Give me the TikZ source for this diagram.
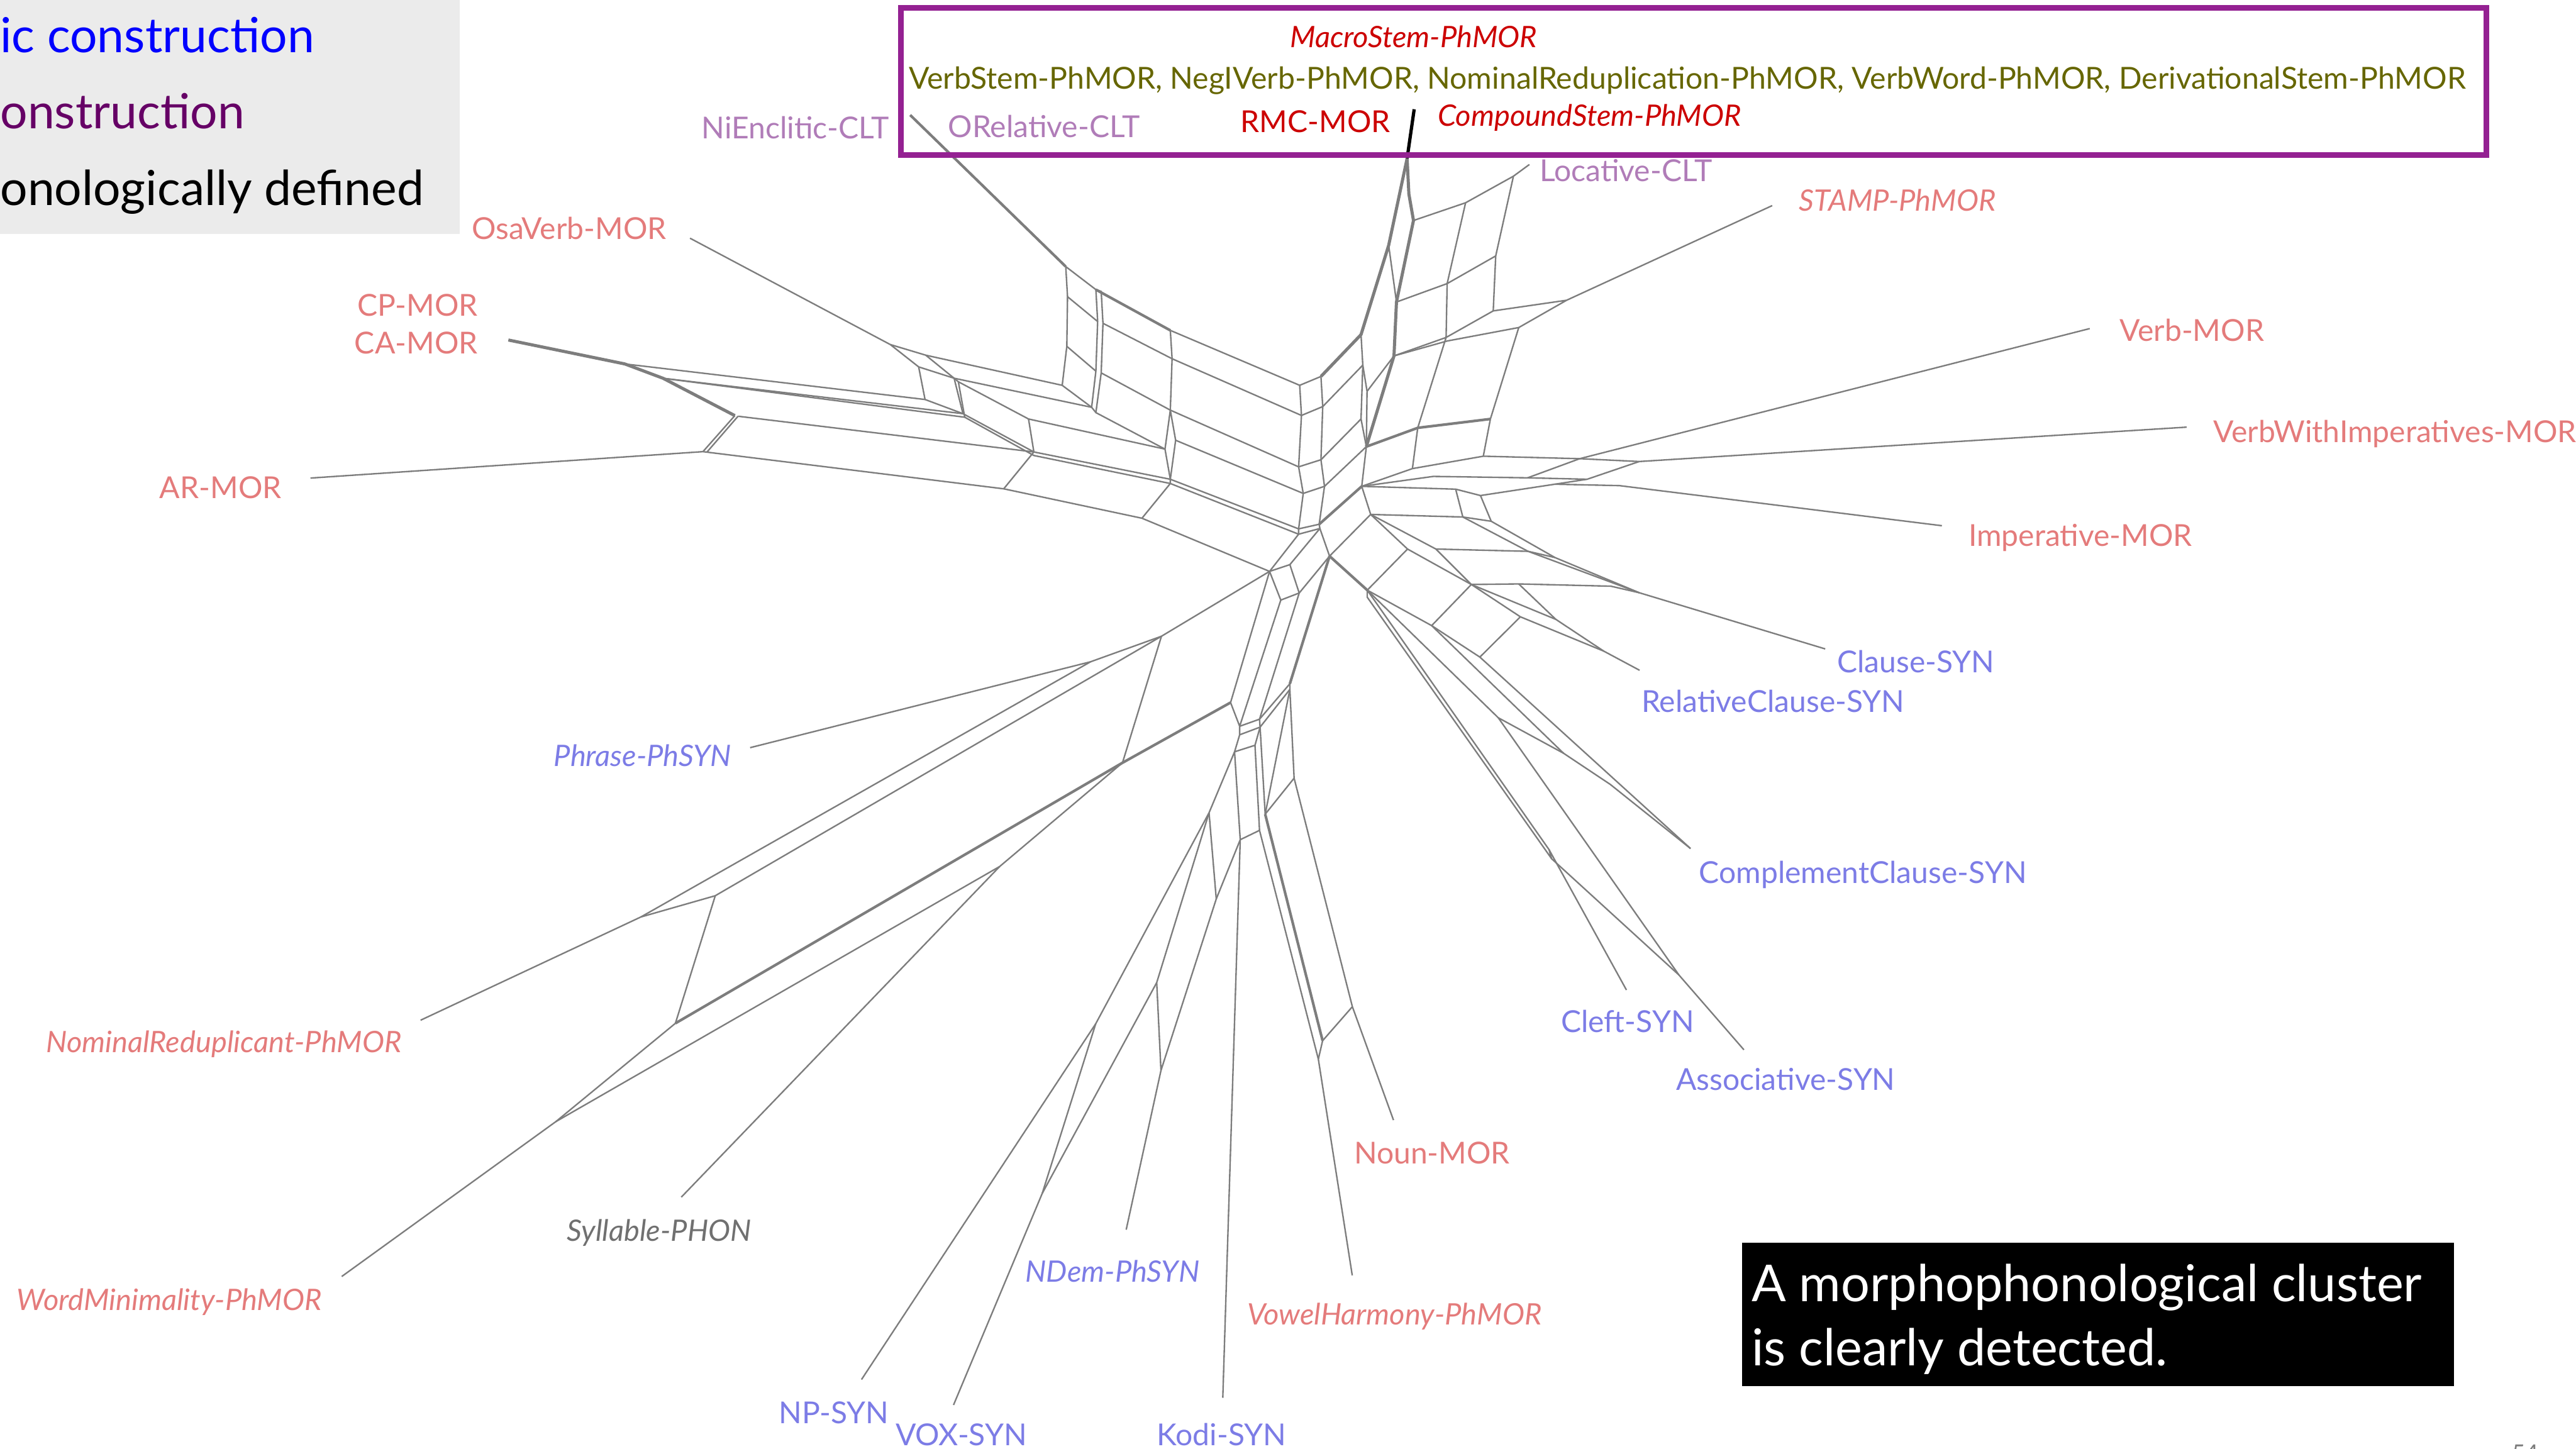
\documentclass[tikz,border=0pt]{standalone}
\usepackage{fontspec}
\setmainfont{Lato}
\begin{document}
\begin{tikzpicture}[x=1pt, y=-1pt,
  net/.style={draw=greyNET, line width=0.9pt, line join=round},
  thicknet/.style={net, line width=1.6pt},
  trunk/.style={net, line width=1.9pt},
  taxon/.style={inner sep=0pt, font=\fontsize{18.4}{20}\selectfont},
  taxonit/.style={inner sep=0pt, font=\fontsize{18}{20}\selectfont\itshape},
  key/.style={inner sep=0pt, font=\fontsize{29.4}{36}\selectfont},
  remark/.style={inner sep=0pt, text=white, font=\fontsize{31}{36}\selectfont}]

\definecolor{greyNET}{HTML}{7D7D7D}
\definecolor{salmonMOR}{HTML}{E47B7B}
\definecolor{blueSYN}{HTML}{7C7CE6}
\definecolor{lilacCLT}{HTML}{B07CB8}
\definecolor{greyPHON}{HTML}{707070}
\definecolor{redBOX}{HTML}{CC0000}
\definecolor{oliveBOX}{HTML}{666600}
\definecolor{purpleBOX}{HTML}{942192}
\definecolor{greyKEY}{HTML}{EBEBEB}
\definecolor{blueKEY}{HTML}{0000FF}
\definecolor{purpleKEY}{HTML}{660066}

\useasboundingbox (0,0) rectangle (1568,882);
\clip (0,0) rectangle (1568,882);

% key
\fill[greyKEY] (0,0) rectangle (280,142.6);
\node[key, text=blueKEY, anchor=base west] (keysyn) at (0,32) {ic construction};
\node[key, text=purpleKEY, anchor=base west] (keymor) at (0,78.4) {onstruction};
\node[key, anchor=base west] (keyphon) at (0,124.9) {onologically defined};

% leaves of the network
\coordinate (niE) at (554,70);
\coordinate (osaE) at (420,145);
\coordinate (arE) at (189,291);
\coordinate (verbE) at (1272,200);
\coordinate (vwiE) at (1331,260);
\coordinate (impE) at (1182,320);
\coordinate (clauseE) at (1111,395);
\coordinate (relE) at (998,408);
\coordinate (compE) at (1029,516.5);
\coordinate (cleftE) at (990,602.6);
\coordinate (assocE) at (1061.5,639);
\coordinate (nounE) at (848.2,681.8);
\coordinate (vowelE) at (823.1,776.3);
\coordinate (kodiE) at (744.3,850.8);
\coordinate (ndemE) at (685.5,748.5);
\coordinate (voxE) at (580.4,855.2);
\coordinate (npE) at (524.4,839.7);
\coordinate (sylE) at (414.7,728.7);
\coordinate (wordE) at (208,777);
\coordinate (nomE) at (256,621);
\coordinate (phraseE) at (456.6,455.1);

% upper right part
\begin{scope}[shift={(795,84.6)}, scale=0.21575]
  \coordinate (t0) at (285,55);
  \coordinate (t1) at (233,300);
  \coordinate (t2) at (290,155);
  \coordinate (t3) at (303,230);
  \coordinate (t4) at (255,460);
  \coordinate (t5) at (248,612);
  \coordinate (cf0) at (155,552);
  \coordinate (cf1) at (160,638);
  \coordinate (cf1b) at (172,712);
  \coordinate (cf2) at (155,790);
  \coordinate (cf3) at (170,868);
  \coordinate (hubR) at (157,980);
  \coordinate (l1) at (450,180);
  \coordinate (l2) at (585,105);
  \coordinate (locE) at (630,72);
  \coordinate (l3) at (398,408);
  \coordinate (l4) at (535,330);
  \coordinate (l5) at (395,560);
  \coordinate (l5b) at (398,570);
  \coordinate (l6) at (528,485);
  \coordinate (l7) at (600,532);
  \coordinate (s1) at (735,455);
  \coordinate (stampE) at (1315,188);
  \coordinate (l8) at (315,815);
  \coordinate (l9) at (520,790);
  \coordinate (r1) at (300,930);
  \coordinate (r2) at (500,895);
  \coordinate (r3) at (359,952);
  \coordinate (r4) at (625,956);
  \coordinate (r5) at (793,960);
  \coordinate (v1) at (772,902);
  \coordinate (v2) at (940,910);
  \coordinate (r6) at (422,988);
  \coordinate (r7) at (492,1006);
  \coordinate (r8) at (702,974);
  \coordinate (r9) at (884,978);
\end{scope}

% upper left part
\begin{scope}[shift={(507.4,135.3)}, scale=0.21575]
  \coordinate (un) at (655,125);
  \coordinate (ca1) at (660,210);
  \coordinate (ca2) at (658,350);
  \coordinate (cb0) at (740,190);
  \coordinate (cb1) at (745,280);
  \coordinate (cb2) at (740,420);
  \coordinate (cbb0) at (755,195);
  \coordinate (cbb1) at (760,285);
  \coordinate (cbb2) at (755,425);
  \coordinate (cc0) at (950,305);
  \coordinate (cc1) at (955,385);
  \coordinate (cc2) at (950,530);
  \coordinate (cc3) at (965,615);
  \coordinate (cd0) at (1315,460);
  \coordinate (cd1) at (1320,545);
  \coordinate (cd2) at (1312,690);
  \coordinate (cd3) at (1325,765);
  \coordinate (cd4) at (1312,865);
  \coordinate (cd5) at (1312,880);
  \coordinate (ce0) at (1375,435);
  \coordinate (ce1) at (1380,520);
  \coordinate (ce2) at (1375,670);
  \coordinate (ce3) at (1385,745);
  \coordinate (ce4) at (1370,852);
  \coordinate (ce5) at (1372,864);
  \coordinate (uo) at (160,345);
  \coordinate (ub1) at (260,375);
  \coordinate (ub2) at (645,460);
  \coordinate (ub3) at (240,408);
  \coordinate (ub4) at (340,440);
  \coordinate (ub4b) at (352,450);
  \coordinate (ub5) at (728,522);
  \coordinate (ub5b) at (740,537);
  \coordinate (ub6) at (550,555);
  \coordinate (ub7) at (935,640);
  \coordinate (ua1) at (258,500);
  \coordinate (ua2) at (365,540);
  \coordinate (ua2b) at (370,550);
  \coordinate (ua4) at (565,648);
  \coordinate (ua4b) at (565,658);
  \coordinate (ua5) at (480,752);
  \coordinate (ua6) at (870,835);
  \coordinate (ua7) at (950,725);
  \coordinate (ua7b) at (950,737);
  \coordinate (uh) at (1230,985);
  \coordinate (pa) at (925,1168);
  \coordinate (pb) at (725,1240);
  \coordinate (qr) at (815,1525);
  \coordinate (qs) at (1120,1355);
\end{scope}

% left bands
\begin{scope}[shift={(270.6,169.1)}, scale=0.19417]
  \coordinate (cpE) at (200,195);
  \coordinate (w2) at (565,270);
  \coordinate (w3) at (685,315);
  \coordinate (w4) at (910,432);
  \coordinate (w4b) at (920,434);
  \coordinate (w5) at (810,545);
  \coordinate (w5b) at (822,547);
\end{scope}

% centre
\begin{scope}[shift={(727.3,287.6)}, scale=0.1726]
  \coordinate (h2) at (620,148);
  \coordinate (h3) at (475,295);
  \coordinate (x1) at (335,325);
  \coordinate (x2) at (303,450);
  \coordinate (x3) at (368,425);
  \coordinate (g0) at (608,415);
  \coordinate (g0b) at (608,440);
  \coordinate (m0) at (750,270);
  \coordinate (k5) at (850,270);
  \coordinate (m2) at (975,395);
  \coordinate (g1) at (835,540);
  \coordinate (k1) at (945,157);
  \coordinate (k2) at (1045,172);
  \coordinate (k3) at (1175,278);
  \coordinate (k4) at (1270,300);
  \coordinate (kc) at (1567,424);
  \coordinate (k8) at (1142,393);
  \coordinate (k9) at (1467,401);
  \coordinate (k10) at (1273,518);
  \coordinate (k11) at (1148,509);
  \coordinate (kr) at (1442,630);
  \coordinate (g2) at (1005,651);
  \coordinate (g3) at (1070,865);
  \coordinate (g4) at (1300,990);
  \coordinate (g5) at (1465,1100);
  \coordinate (jc) at (1249,1330);
  \coordinate (jcb) at (1258,1362);
  \coordinate (ja) at (1707,1772);
  \coordinate (y1) at (335,745);
  \coordinate (y2) at (335,765);
  \coordinate (y3) at (350,1078);
  \coordinate (y4) at (228,870);
  \coordinate (y5) at (230,898);
  \coordinate (y6) at (158,895);
  \coordinate (y7) at (158,925);
  \coordinate (y9) at (140,985);
  \coordinate (y10) at (212,962);
  \coordinate (y11) at (248,1205);
  \coordinate (y12) at (160,1295);
  \coordinate (y13) at (228,1262);
  \coordinate (y14) at (50,1200);
\end{scope}

% lower centre
\begin{scope}[shift={(642.8,422.9)}, scale=0.1726]
  \coordinate (nn1) at (1045,1100);
  \coordinate (nv1) at (940,1220);
  \coordinate (nv2) at (925,1285);
  \coordinate (nd1) at (565,720);
  \coordinate (nd2) at (370,1325);
  \coordinate (vx1) at (355,1015);
  \coordinate (np1) at (140,1160);
\end{scope}

% lower left
\begin{scope}[shift={(338.3,372.1)}, scale=0.3236]
  \coordinate (n1) at (160,575);
  \coordinate (q1) at (300,535);
  \coordinate (q2) at (225,775);
  \coordinate (w0) at (0,960);
  \coordinate (s2) at (835,480);
  \coordinate (vx2) at (915,1095);
\end{scope}

% --- edges ---
\draw[line width=2pt] (860.8,66.5) -- (t0);
\draw[trunk] (t0) -- (t1) -- (cf0) -- (ce0);
\draw[trunk] (t0) -- (t2) -- (t3) -- (t4) -- (t5) -- (cf3);
\draw[net] (t1) -- (t4);
\draw[net] (cf0) -- (cf1) -- (cf2) -- (cf3) -- (hubR);
\draw[net] (cf1) -- (cf1b) -- (cf3);
\draw[net] (cf1b) -- (t5);
\draw[net] (t3) -- (l1) -- (l2) -- (locE);
\draw[net] (t4) -- (l3) -- (l4) -- (l2);
\draw[net] (l1) -- (l3) -- (l5) -- (l6) -- (l4);
\draw[net] (t5) -- (l5);
\draw[net] (t5) -- (l5b) -- (l7) -- (s1) -- (l6);
\draw[net] (s1) -- (stampE);
\draw[net] (l5) -- (l8);
\draw[net] (l7) -- (l9);
\draw[thicknet] (cf3) -- (l8) -- (l9);
\draw[net] (l8) -- (r1);
\draw[net] (l9) -- (r2);
\draw[net] (hubR) -- (r1) -- (r2) -- (v1) -- (v2) -- (vwiE);
\draw[net] (hubR) -- (r3) -- (r4) -- (r5) -- (v2);
\draw[net] (r4) -- (v1) -- (verbE);
\draw[net] (hubR) -- (r6) -- (r7) -- (r8) -- (r9) -- (impE);
\draw[net] (r8) -- (r5);

\draw[thicknet] (niE) -- (un);
\draw[net] (osaE) -- (uo);
\draw[net] (un) -- (ca1) -- (ca2) -- (ub2);
\draw[net] (un) -- (cb0) -- (cb1) -- (cb2) -- (ub5) -- (ub5b) -- (cbb2) -- (cbb1) -- (cbb0) -- (cb0);
\draw[thicknet] (cb0) -- (cc0);
\draw[net] (ca1) -- (cb1);
\draw[net] (ca2) -- (cb2);
\draw[net] (ub2) -- (ub5);
\draw[net] (cbb1) -- (cc1);
\draw[net] (cbb2) -- (cc2);
\draw[net] (ub5b) -- (ub7);
\draw[net] (cc0) -- (cc1) -- (cc2) -- (ub7) -- (ua7);
\draw[net] (cc2) -- (cc3) -- (ua7) -- (ua7b);
\draw[net] (cc0) -- (cd0);
\draw[net] (cc1) -- (cd1);
\draw[net] (cc2) -- (cd2);
\draw[net] (cc3) -- (cd3);
\draw[net] (ua7) -- (cd4);
\draw[net] (ua7b) -- (cd5);
\draw[net] (cd0) -- (cd1) -- (cd2) -- (cd3) -- (cd4) -- (cd5) -- (uh);
\draw[net] (ce0) -- (ce1) -- (ce2) -- (ce3) -- (ce4) -- (ce5);
\foreach \i in {0,...,5} {
  \draw[net] (cd\i) -- (ce\i);
}
\draw[net] (ce1) -- (cf1);
\draw[net] (ce2) -- (cf2);
\draw[net] (ce3) -- (cf3);
\draw[thicknet] (ce4) -- (hubR);
\draw[net] (uo) -- (ub1) -- (ub2);
\draw[net] (uo) -- (ub3) -- (ub4) -- (ub5);
\draw[net] (ub1) -- (ub4);
\draw[net] (ub3) -- (ua1);
\draw[net] (ub4) -- (ub4b) -- (ub6) -- (ub7);
\draw[net] (ub4) -- (ua2);
\draw[net] (ub4b) -- (ua2b);
\draw[net] (ua1) -- (ua2) -- (ua4) -- (ua7);
\draw[net] (ua2b) -- (ua4b) -- (ua7b);
\draw[net] (ub6) -- (ua4);
\draw[net] (ua5) -- (ua4);
\draw[net] (ua5) -- (ua6) -- (uh);
\draw[net] (ua6) -- (ua7b);
\draw[net] (uh) -- (pa) -- (pb);
\draw[net] (uh) -- (qs);
\draw[net] (pa) -- (qr);
\draw[thicknet] (qs) -- (qr);

\draw[trunk] (cpE) -- (w2) -- (w3) -- (w4);
\draw[net] (w4) -- (w5);
\draw[net] (w4b) -- (w5b);
\draw[net] (arE) -- (w5) -- (ua5);
\draw[net] (w4b) -- (ua4);
\draw[net] (w2) -- (ua1);
\draw[net] (w3) -- (ua2);
\draw[net] (w3) -- (ua2b);

\draw[net] (ce5) -- (h3);
\draw[net] (hubR) -- (h2) -- (h3);
\draw[net] (ce5) -- (x1);
\draw[net] (uh) -- (x1) -- (x3);
\draw[net] (uh) -- (x2) -- (x3) -- (h3);
\draw[thicknet] (h3) -- (g0);
\draw[net] (h2) -- (m0) -- (g0);
\draw[net] (m0) -- (m2) -- (g1) -- (g0);
\draw[net] (h2) -- (k5) -- (m2);
\draw[net] (h2) -- (k1) -- (k2);
\draw[net] (r6) -- (k1);
\draw[net] (r7) -- (k2);
\draw[net] (k1) -- (k3) -- (kc);
\draw[net] (k2) -- (k4) -- (kc);
\draw[net] (k3) -- (k4);
\draw[net] (k5) -- (k3);
\draw[net] (m2) -- (k8) -- (k9) -- (kc) -- (clauseE);
\draw[net] (m2) -- (k10) -- (kr) -- (relE);
\draw[net] (k8) -- (k10);
\draw[net] (m2) -- (k11) -- (kr);
\draw[net] (g1) -- (g2) -- (k11);
\draw[net] (g2) -- (compE);
\draw[net] (g0) -- (g3) -- (g4) -- (g5) -- (compE);
\draw[net] (g1) -- (g4);
\draw[net] (g0) -- (g0b) -- (jcb) -- (jc) -- (g0);
\draw[net] (jc) -- (cleftE);
\draw[net] (jcb) -- (ja) -- (assocE);
\draw[net] (g3) -- (ja);

\draw[thicknet] (h3) -- (y1);
\draw[net] (y1) -- (y2) -- (y3);
\draw[net] (y1) -- (y4);
\draw[net] (y2) -- (y5);
\draw[net] (y4) -- (y5);
\draw[net] (x3) -- (y4);
\draw[net] (x2) -- (y6);
\draw[net] (qs) -- (y6) -- (y7) -- (y9);
\draw[net] (y6) -- (y4);
\draw[net] (y7) -- (y5);
\draw[net] (y9) -- (y10) -- (y5);
\draw[net] (y9) -- (y14);
\draw[net] (y9) -- (y12) -- (y13) -- (y10);
\draw[net] (y5) -- (y11) -- (y3);
\draw[net] (y2) -- (y11);

\draw[net] (y3) -- (nn1) -- (nounE);
\draw[thicknet] (y11) -- (nv1);
\draw[net] (nv1) -- (nv2) -- (vowelE);
\draw[net] (y13) -- (nv2);
\draw[net] (nv1) -- (nn1);
\draw[net] (y12) -- (kodiE);
\draw[net] (y12) -- (nd1) -- (nd2) -- (ndemE);
\draw[net] (y14) -- (nd1);
\draw[net] (y14) -- (vx1) -- (vx2) -- (voxE);
\draw[net] (vx1) -- (nd2);
\draw[net] (y14) -- (np1) -- (npE);
\draw[net] (np1) -- (vx2);

\draw[net] (phraseE) -- (pb);
\draw[net] (pb) -- (n1) -- (nomE);
\draw[net] (n1) -- (q1) -- (pa);
\draw[net] (q1) -- (q2);
\draw[thicknet] (qr) -- (q2);
\draw[net] (q2) -- (w0) -- (wordE);
\draw[net] (qr) -- (s2) -- (sylE);
\draw[net] (s2) -- (w0);

% taxa in the frame
\draw[purpleBOX, line width=3.4pt] (548.5,4.9) rectangle (1513.5,94.4);
\node[taxonit, text=redBOX, anchor=base west] (macro) at (785,28.8) {MacroStem-PhMOR};
\node[taxon, text=oliveBOX, anchor=base west, font=\fontsize{18.45}{20}\selectfont] (stems) at (553,54) {VerbStem-PhMOR, NegIVerb-PhMOR, NominalReduplication-PhMOR, VerbWord-PhMOR, DerivationalStem-PhMOR};
\node[taxon, text=redBOX, anchor=base west] (rmc) at (755,80.6) {RMC-MOR};
\node[taxonit, text=redBOX, anchor=base west] (compound) at (875,76.7) {CompoundStem-PhMOR};

% taxon labels
\node[taxon, text=lilacCLT, anchor=base west] (nienc) at (427,84.5) {NiEnclitic-CLT};
\node[taxon, text=lilacCLT, anchor=base west] (orel) at (577,83.5) {ORelative-CLT};
\node[taxon, text=lilacCLT, anchor=base west] (loc) at (937,110.5) {Locative-CLT};
\node[taxonit, text=salmonMOR, anchor=base west] (stamp) at (1095,128.5) {STAMP-PhMOR};
\node[taxon, text=salmonMOR, anchor=base west] (osa) at (287,145.5) {OsaVerb-MOR};
\node[taxon, text=salmonMOR, anchor=base east] (cp) at (291,192.5) {CP-MOR};
\node[taxon, text=salmonMOR, anchor=base east] (ca) at (291,215.5) {CA-MOR};
\node[taxon, text=salmonMOR, anchor=base west] (verb) at (1290,207.5) {Verb-MOR};
\node[taxon, text=salmonMOR, anchor=base west] (vwi) at (1347,269.5) {VerbWithImperatives-MOR};
\node[taxon, text=salmonMOR, anchor=base west] (ar) at (97,303.5) {AR-MOR};
\node[taxon, text=salmonMOR, anchor=base west] (imp) at (1198,332.5) {Imperative-MOR};
\node[taxon, text=blueSYN, anchor=base west] (clause) at (1118,409.5) {Clause-SYN};
\node[taxon, text=blueSYN, anchor=base west] (rel) at (999,433.5) {RelativeClause-SYN};
\node[taxonit, text=blueSYN, anchor=base west] (phrase) at (337,466.5) {Phrase-PhSYN};
\node[taxon, text=blueSYN, anchor=base west] (comp) at (1034,537.5) {ComplementClause-SYN};
\node[taxon, text=blueSYN, anchor=base west] (cleft) at (950,628.5) {Cleft-SYN};
\node[taxonit, text=salmonMOR, anchor=base west] (nomred) at (28,640.5) {NominalReduplicant-PhMOR};
\node[taxon, text=blueSYN, anchor=base west] (assoc) at (1020,663.5) {Associative-SYN};
\node[taxon, text=salmonMOR, anchor=base west] (noun) at (824,708.5) {Noun-MOR};
\node[taxonit, text=greyPHON, anchor=base west] (syl) at (345,755.5) {Syllable-PHON};
\node[taxonit, text=blueSYN, anchor=base west] (ndem) at (624,780.5) {NDem-PhSYN};
\node[taxonit, text=salmonMOR, anchor=base west] (wordmin) at (10,797.5) {WordMinimality-PhMOR};
\node[taxonit, text=salmonMOR, anchor=base west] (vowel) at (759,806.5) {VowelHarmony-PhMOR};
\node[taxon, text=blueSYN, anchor=base west] (np) at (474,866.5) {NP-SYN};
\node[taxon, text=blueSYN, anchor=base west] (vox) at (545,880) {VOX-SYN};
\node[taxon, text=blueSYN, anchor=base west] (kodi) at (704,880) {Kodi-SYN};

% remark
\fill (1060.5,756.5) rectangle (1493.6,843.8);
\node[remark, anchor=base west] (remark1) at (1066,792.4) {A morphophonological cluster};
\node[remark, anchor=base west] (remark2) at (1066,831.4) {is clearly detected.};

\node[anchor=north west, inner sep=0pt, text=greyNET, font=\fontsize{14}{16}\selectfont] (pagenum) at (1529,879.4) {54};
\end{tikzpicture}
\end{document}
